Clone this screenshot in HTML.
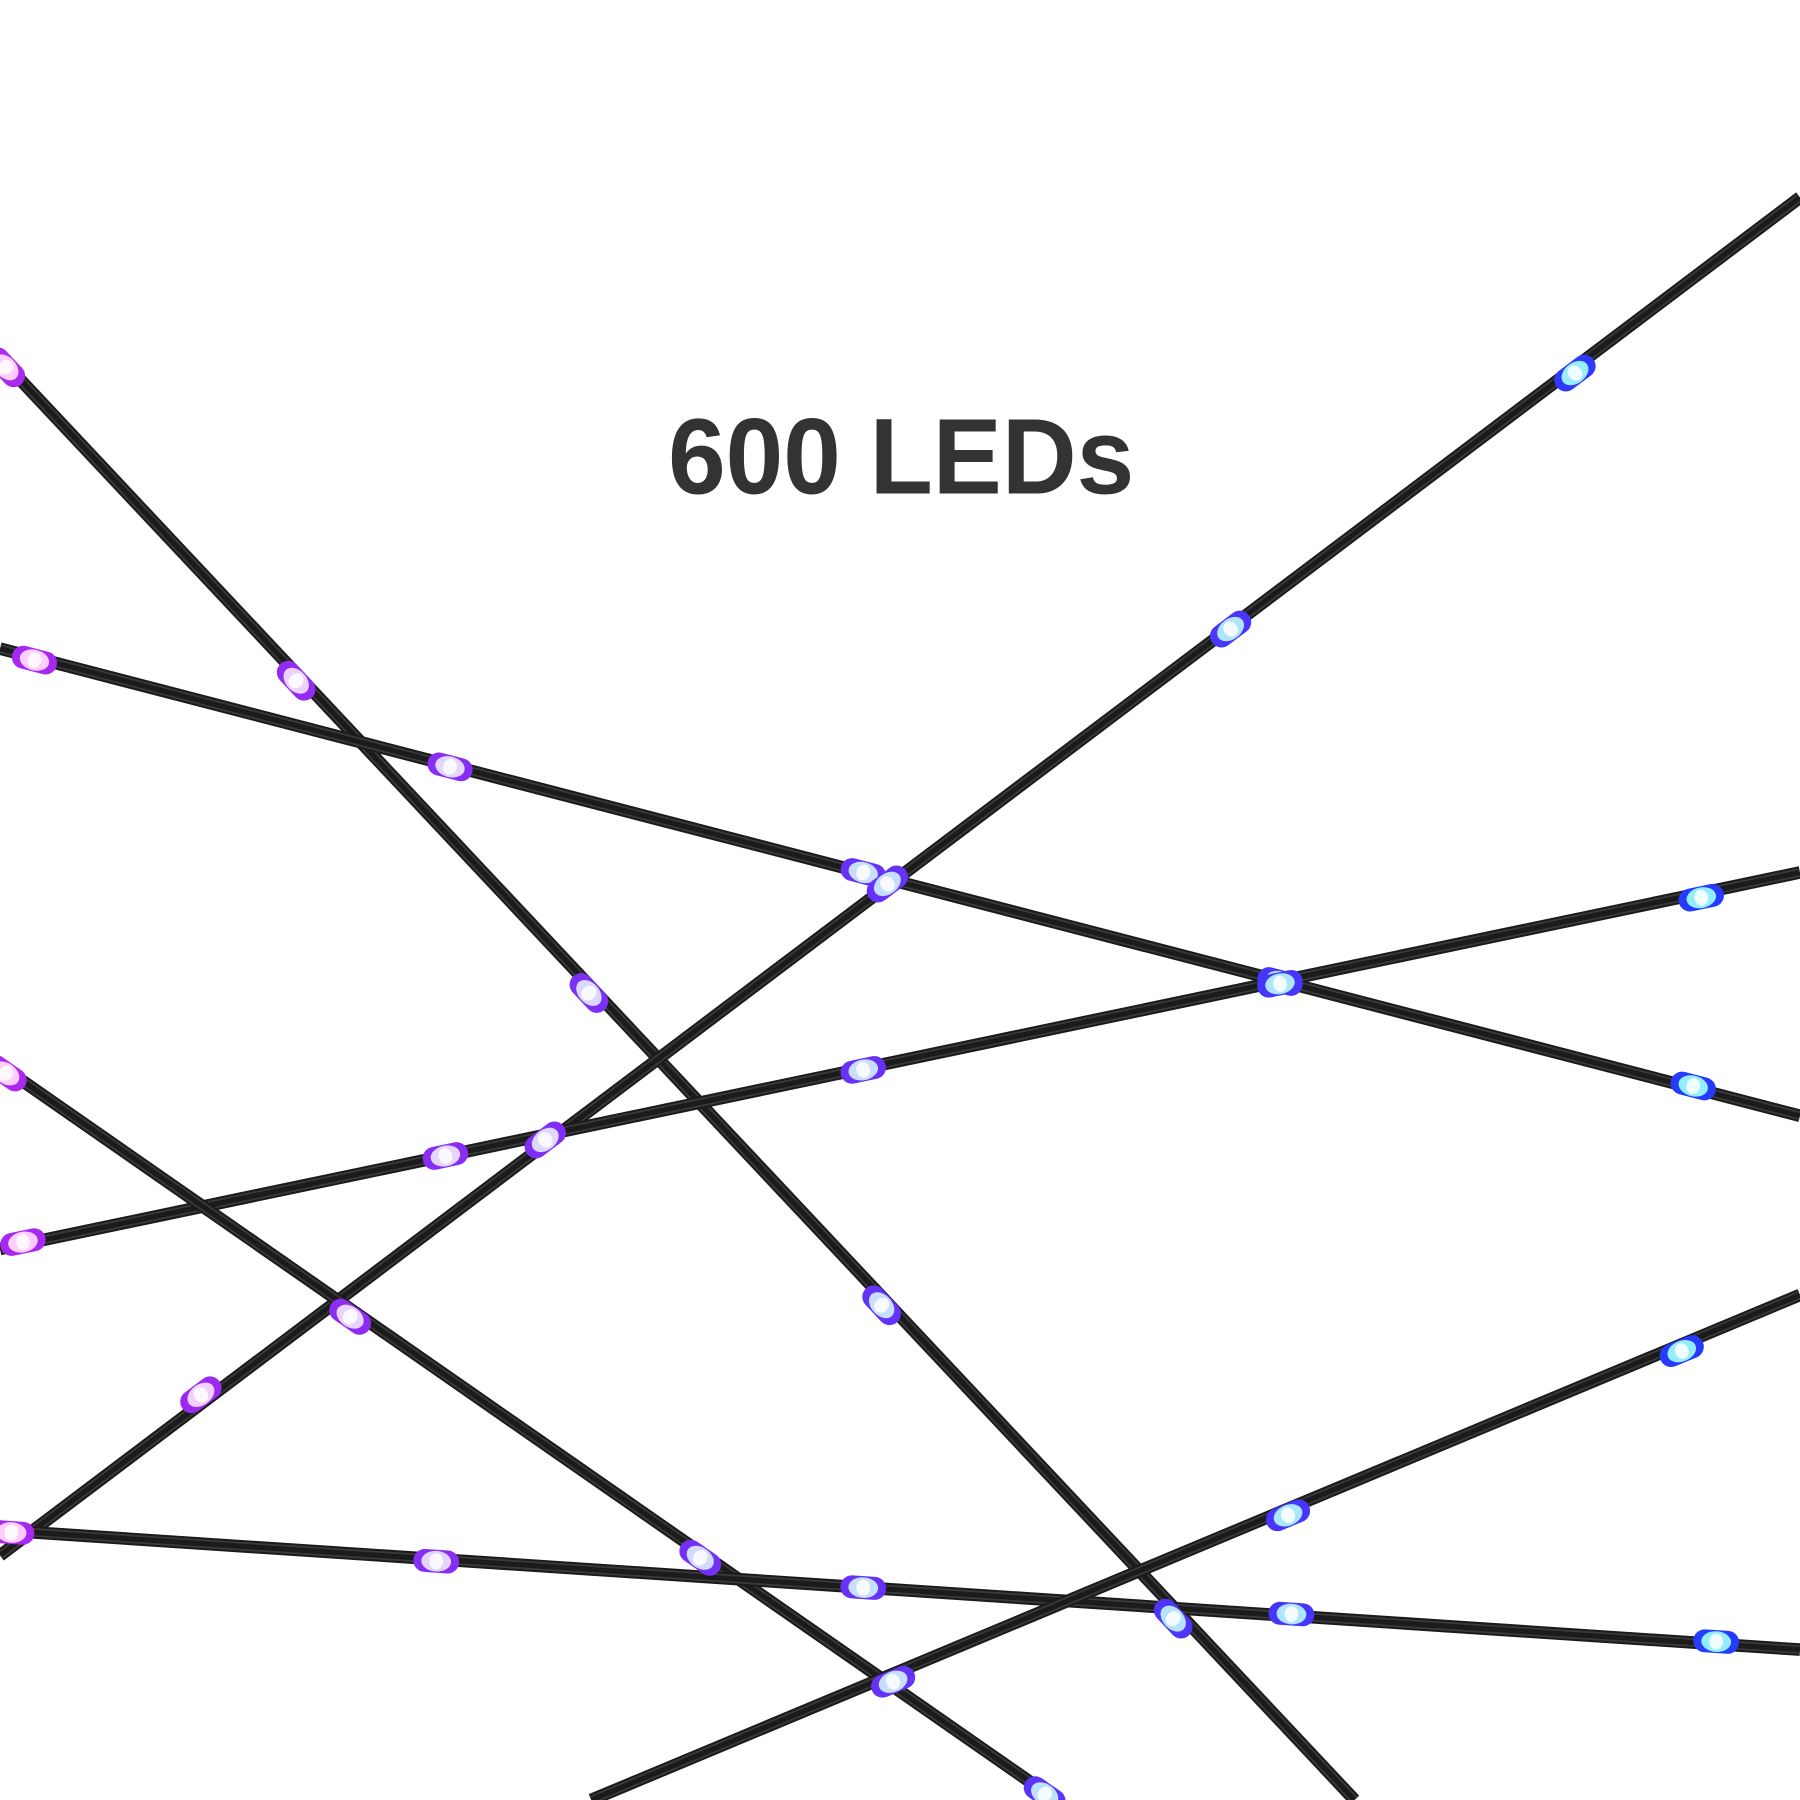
<!DOCTYPE html>
<html><head><meta charset="utf-8"><style>
html,body{margin:0;padding:0;background:#fff;}
svg{display:block;}
</style></head><body>
<svg id="s" width="1800" height="1800" viewBox="0 0 1568 1568" xmlns="http://www.w3.org/2000/svg">
<text x="582" y="430" textLength="406" lengthAdjust="spacingAndGlyphs" font-family="'Liberation Sans',sans-serif" font-weight="bold" font-size="94" fill="#333">600 LEDs</text>
<g id="c"></g>
</svg>
<script>
var lines=[
 {a:[0,312],b:[1180,1568],leds:[[5,320],[258,593],[513,865],[768,1137],[1022,1410]]},
 {a:[0,565],b:[1568,972],leds:[[30,575],[392,668],[752,760],[1115,855],[1475,946]]},
 {a:[1568,172],b:[0,1355],leds:[[1372,325],[1072,548],[773,770],[475,993],[175,1215]]},
 {a:[0,1088],b:[1568,760],leds:[[20,1082],[388,1007],[752,932],[1115,857],[1482,782]]},
 {a:[0,928],b:[920,1568],leds:[[5,935],[305,1147],[610,1357],[910,1563]]},
 {a:[0,1333],b:[1568,1437],leds:[[10,1335],[380,1360],[752,1383],[1125,1406],[1495,1430]]},
 {a:[515,1568],b:[1568,1128],leds:[[778,1465],[1122,1320],[1465,1177]]}
];
var g=document.getElementById('c'),h='';
function lerp(c1,c2,t){return 'rgb('+c1.map(function(v,i){return Math.round(v+(c2[i]-v)*t)}).join(',')+')';}
lines.forEach(function(L){
 var dx=L.b[0]-L.a[0],dy=L.b[1]-L.a[1],len=Math.hypot(dx,dy),nx=-dy/len,ny=dx/len;
 h+='<line x1="'+L.a[0]+'" y1="'+L.a[1]+'" x2="'+L.b[0]+'" y2="'+L.b[1]+'" stroke="#1b1b1b" stroke-width="11"/>';
 [-3,3].forEach(function(o){h+='<line x1="'+(L.a[0]+nx*o)+'" y1="'+(L.a[1]+ny*o)+'" x2="'+(L.b[0]+nx*o)+'" y2="'+(L.b[1]+ny*o)+'" stroke="#3a3a3a" stroke-width="1.5"/>';});
});
lines.forEach(function(L){
 var ang=Math.atan2(L.b[1]-L.a[1],L.b[0]-L.a[0])*180/Math.PI;
 L.leds.forEach(function(p){
  var t=Math.min(1,Math.max(0,p[0]/1568));
  var end=lerp([170,40,240],[30,60,255],t), mid=lerp([255,205,255],[140,240,255],t);
  h+='<g transform="translate('+p[0]+','+p[1]+') rotate('+ang+')">'+
   '<rect x="-20" y="-10" width="40" height="20" rx="10" fill="'+end+'"/>'+
   '<ellipse cx="0" cy="0" rx="13" ry="9" fill="'+mid+'"/>'+
   '<ellipse cx="0" cy="0" rx="6" ry="7" fill="#fff" opacity="0.85"/></g>';
 });
});
g.innerHTML=h;
</script>
</body></html>
